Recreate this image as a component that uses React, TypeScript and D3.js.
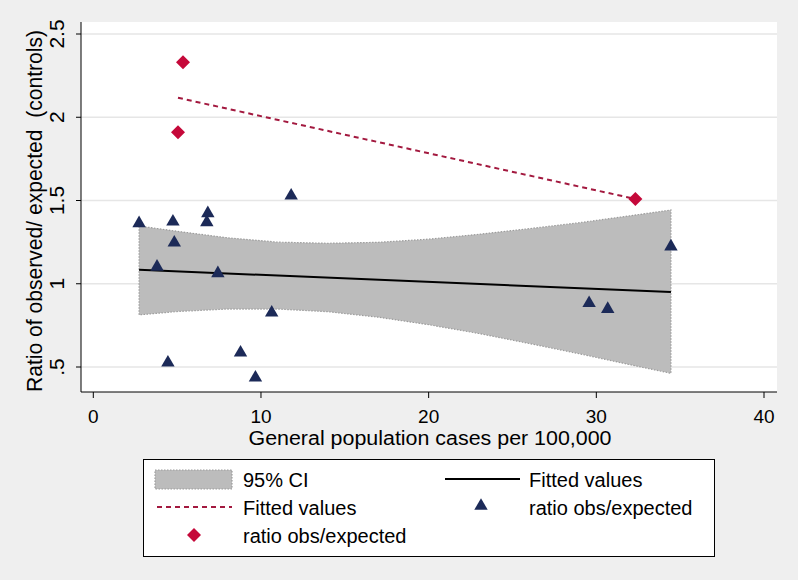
import React from "react";
import * as d3 from "d3";

// ---- data ----
const triX = [2.73, 4.75, 6.83, 6.77, 4.83, 3.8, 7.43, 11.8, 10.64, 8.78, 4.45, 9.67, 34.45, 29.57, 30.68];
const triY = [1.363, 1.373, 1.423, 1.369, 1.247, 1.102, 1.063, 1.529, 0.826, 0.586, 0.526, 0.436, 1.223, 0.883, 0.848];
const diaX = [5.35, 5.05, 32.33];
const diaY = [2.33, 1.91, 1.509];
const redFitX = [5.05, 32.33];
const redFitY = [2.117, 1.509];
const blackFitX = [2.73, 34.45];
const blackFitY = [1.084, 0.95];
const ciX = [2.73, 5, 8, 11, 14, 17, 20, 23, 26, 29, 32, 34.45];
const ciUpper = [1.347, 1.315, 1.276, 1.25, 1.243, 1.249, 1.268, 1.297, 1.331, 1.367, 1.408, 1.443];
const ciLower = [0.813, 0.833, 0.848, 0.848, 0.832, 0.799, 0.754, 0.701, 0.641, 0.579, 0.514, 0.462];
const xTicks = [0, 10, 20, 30, 40];
const yTicks = [0.5, 1, 1.5, 2, 2.5];
const yTickLabels = [".5", "1", "1.5", "2", "2.5"];

const W = 798;
const H = 580;
const plot = { left: 81, right: 777, top: 22, bottom: 392 };

export default function App() {
  const x = d3.scaleLinear().domain([0, 40]).range([93.3, 764]);
  const y = d3.scaleLinear().domain([0.5, 2.5]).range([367, 34]);

  const band = d3
    .area<number>()
    .x((_, i) => x(ciX[i]))
    .y0((_, i) => y(ciLower[i]))
    .y1((_, i) => y(ciUpper[i]));
  const bandPath = band(ciX) || "";

  const line = d3.line<[number, number]>().x((d) => x(d[0])).y((d) => y(d[1]));
  const blackPath = line(blackFitX.map((v, i) => [v, blackFitY[i]] as [number, number])) || "";
  const redPath = line(redFitX.map((v, i) => [v, redFitY[i]] as [number, number])) || "";

  const navy = "#1c2a58";
  const red = "#c5093a";
  const dashRed = "#a3193f";
  const font = "Liberation Sans, Arial, sans-serif";

  const tri = d3.symbol().type(d3.symbolTriangle).size(78)() || "";
  const dia = (s: number) => `M0,${-s}L${s},0L0,${s}L${-s},0Z`;

  return (
    <svg width={W} height={H} style={{ position: "absolute", left: 0, top: 0 }} fontFamily={font}>
      <rect x={0} y={0} width={W} height={H} fill="#efefef" />
      <rect x={plot.left} y={plot.top} width={plot.right - plot.left} height={plot.bottom - plot.top} fill="#ffffff" />
      {/* grid */}
      {yTicks.map((t) => (
        <line key={"g" + t} x1={plot.left} x2={plot.right} y1={y(t)} y2={y(t)} stroke="#e6e6e6" strokeWidth={1.5} />
      ))}
      {/* CI band */}
      <path d={bandPath} fill="#bcbcbc" stroke="#9c9c9c" strokeWidth={1.2} strokeDasharray="1.5 1.5" />
      {/* black fit */}
      <path d={blackPath} fill="none" stroke="#000" strokeWidth={2} />
      {/* red fit */}
      <path d={redPath} fill="none" stroke={dashRed} strokeWidth={2} strokeDasharray="5 4" />
      {/* triangles */}
      {triX.map((v, i) => (
        <path key={"t" + i} d={tri} transform={`translate(${x(v)},${y(triY[i])})`} fill={navy} />
      ))}
      {/* diamonds */}
      {diaX.map((v, i) => (
        <path key={"d" + i} d={dia(7)} transform={`translate(${x(v)},${y(diaY[i])})`} fill={red} />
      ))}
      {/* axes */}
      <line x1={plot.left} x2={plot.left} y1={plot.top} y2={plot.bottom} stroke="#000" strokeWidth={1} />
      <line x1={plot.left} x2={plot.right} y1={plot.bottom} y2={plot.bottom} stroke="#000" strokeWidth={1} />
      {yTicks.map((t, i) => (
        <g key={"yt" + t}>
          <line x1={plot.left - 5} x2={plot.left} y1={y(t)} y2={y(t)} stroke="#000" />
          <text transform={`translate(64,${y(t)}) rotate(-90)`} textAnchor="middle" fontSize={21} fill="#000">
            {yTickLabels[i]}
          </text>
        </g>
      ))}
      {xTicks.map((t) => (
        <g key={"xt" + t}>
          <line x1={x(t)} x2={x(t)} y1={plot.bottom} y2={plot.bottom + 6} stroke="#000" />
          <text x={x(t)} y={423} textAnchor="middle" fontSize={19} fill="#000">
            {t}
          </text>
        </g>
      ))}
      <text x={430} y={445} textAnchor="middle" fontSize={20} fill="#000" textLength={363} lengthAdjust="spacingAndGlyphs">
        General population cases per 100,000
      </text>
      <text transform={`translate(42,211) rotate(-90)`} textAnchor="middle" fontSize={22} fill="#000" textLength={362} lengthAdjust="spacingAndGlyphs" style={{ whiteSpace: "pre" }}>
        {"Ratio of observed/ expected  (controls)"}
      </text>
      {/* legend */}
      <rect x={143.5} y={459.5} width={571} height={97} fill="#fff" stroke="#000" strokeWidth={1} />
      <rect x={155} y={470} width={77} height={19} fill="#bcbcbc" stroke="#9c9c9c" strokeWidth={1.2} strokeDasharray="1.5 1.5" />
      <text x={243} y={487} fontSize={20} fill="#000">95% CI</text>
      <line x1={445} x2={520} y1={479} y2={479} stroke="#000" strokeWidth={2} />
      <text x={529} y={487} fontSize={20} fill="#000">Fitted values</text>
      <line x1={157} x2={232} y1={507} y2={507} stroke={dashRed} strokeWidth={2} strokeDasharray="5 4" />
      <text x={243} y={515} fontSize={20} fill="#000">Fitted values</text>
      <path d={tri} transform={`translate(481,506)`} fill={navy} />
      <text x={529} y={515} fontSize={20} fill="#000">ratio obs/expected</text>
      <path d={dia(7)} transform={`translate(194,535)`} fill={red} />
      <text x={243} y={543} fontSize={20} fill="#000">ratio obs/expected</text>
    </svg>
  );
}
